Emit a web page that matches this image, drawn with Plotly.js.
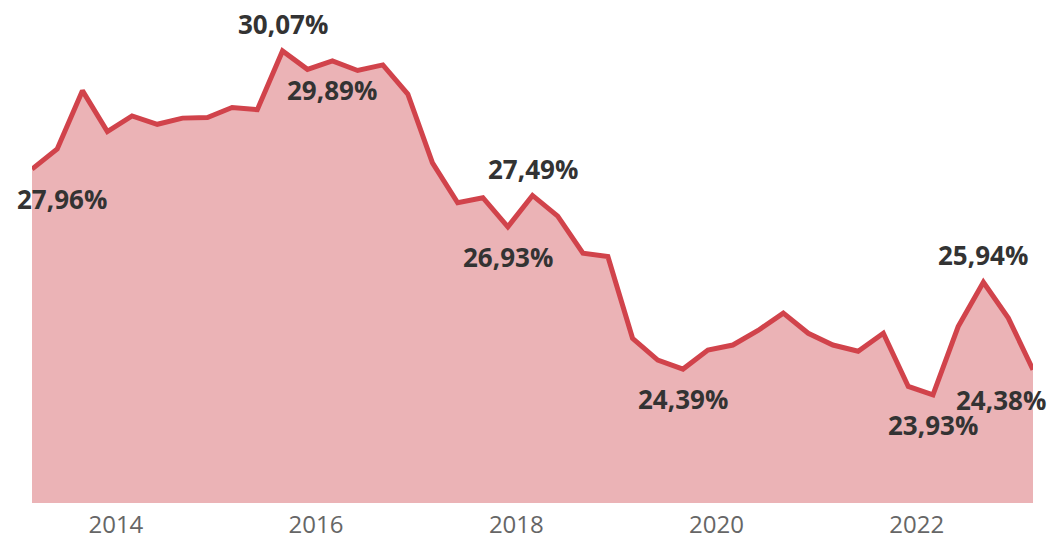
<!DOCTYPE html>
<html>
<head>
<meta charset="utf-8">
<script src="https://cdn.plot.ly/plotly-3.0.1.min.js"></script>
<style>html,body{margin:0;padding:0;background:#fff;}#chart{width:1051px;height:539px;}</style>
</head>
<body>
<div id="chart"></div>
<script>
const dates = ["2013-03-01","2013-06-01","2013-09-01","2013-12-01",
  "2014-03-01","2014-06-01","2014-09-01","2014-12-01",
  "2015-03-01","2015-06-01","2015-09-01","2015-12-01",
  "2016-03-01","2016-06-01","2016-09-01","2016-12-01",
  "2017-03-01","2017-06-01","2017-09-01","2017-12-01",
  "2018-03-01","2018-06-01","2018-09-01","2018-12-01",
  "2019-03-01","2019-06-01","2019-09-01","2019-12-01",
  "2020-03-01","2020-06-01","2020-09-01","2020-12-01",
  "2021-03-01","2021-06-01","2021-09-01","2021-12-01",
  "2022-03-01","2022-06-01","2022-09-01","2022-12-01",
  "2023-03-01"];
const values = [27.96,28.32,29.36,28.63,
  28.91,28.76,28.87,28.88,
  29.06,29.02,30.07,29.74,
  29.89,29.72,29.82,29.30,
  28.07,27.36,27.45,26.93,
  27.49,27.12,26.46,26.40,
  24.94,24.55,24.39,24.73,
  24.82,25.08,25.39,25.03,
  24.82,24.71,25.03,24.08,
  23.93,25.15,25.94,25.30,
  24.38];
const tickVals = ["2014-01-01","2016-01-01","2018-01-01","2020-01-01","2022-01-01"];
const tickText = ["2014","2016","2018","2020","2022"];
// labelled points: index, x shift, y shift (px)
const labelIdx = [0,10,12,19,20,26,36,38,40];
const labelShiftX = [30,0,0,0,0,0,0,0,-32];
const labelShiftY = [-30,27,-29,-30,26,-30,-30,27,-30];

const fmt = v => v.toFixed(2).replace('.', ',') + '%';

const trace = {
  x: dates, y: values, type: 'scatter', mode: 'lines',
  line: {color: '#D1434B', width: 5, shape: 'linear'},
  fill: 'tozeroy', fillcolor: '#EBB3B6',
  hoverinfo: 'skip'
};

const annotations = labelIdx.map((i, k) => ({
  x: dates[i], y: values[i], xref: 'x', yref: 'y',
  text: '<b>' + fmt(values[i]) + '</b>', showarrow: false,
  xshift: labelShiftX[k], yshift: labelShiftY[k],
  font: {family: 'Open Sans, sans-serif', size: 26, color: '#333333'}
}));

const layout = {
  width: 1051, height: 539,
  margin: {l: 32, r: 18, t: 10, b: 36},
  paper_bgcolor: '#ffffff', plot_bgcolor: '#ffffff',
  showlegend: false,
  xaxis: {
    type: 'date', range: [dates[0], dates[dates.length-1]],
    tickvals: tickVals, ticktext: tickText,
    showgrid: false, zeroline: false, showline: false, ticks: '',
    ticklabelstandoff: 5,
    tickfont: {family: 'Open Sans, sans-serif', size: 24, color: '#666666'}
  },
  yaxis: {
    range: [22, 30.8], visible: false, showgrid: false, zeroline: false
  },
  annotations: annotations
};

Plotly.newPlot('chart', [trace], layout, {displayModeBar: false, staticPlot: true});
</script>
</body>
</html>
